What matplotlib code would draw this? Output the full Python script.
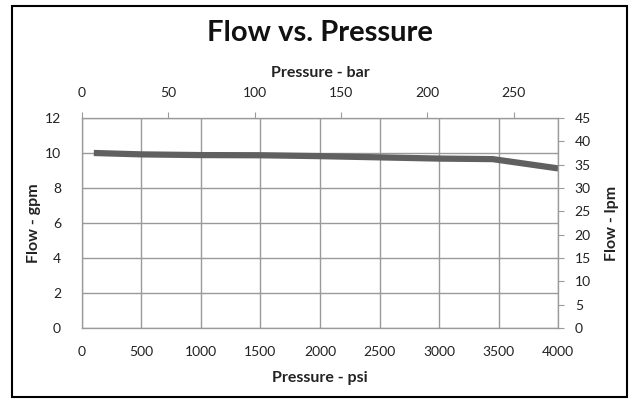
import matplotlib
matplotlib.use("Agg")
import matplotlib.pyplot as plt
from matplotlib.patches import Rectangle

plt.rcParams['font.family'] = ['Lato', 'DejaVu Sans']

# data
psi = [100, 500, 1000, 1500, 2000, 2500, 3000, 3450, 4000]
gpm = [10.0, 9.92, 9.88, 9.87, 9.82, 9.75, 9.68, 9.65, 9.12]
psi_ticks = [0, 500, 1000, 1500, 2000, 2500, 3000, 3500, 4000]
gpm_ticks = [0, 2, 4, 6, 8, 10, 12]
bar_ticks = [0, 50, 100, 150, 200, 250]
lpm_ticks = [0, 5, 10, 15, 20, 25, 30, 35, 40, 45]

PSI_PER_BAR = 14.5038
grid_c = '#9a9a9a'
txt_c = '#222222'

fig = plt.figure(figsize=(6.4, 4.04), dpi=100)
fig.patches.append(Rectangle((0.019, 0.017), 0.961, 0.968, transform=fig.transFigure,
                             fill=False, edgecolor='black', linewidth=1.5))

ax = fig.add_axes([0.128, 0.188, 0.744, 0.52])
ax.plot(psi, gpm, color='#606060', linewidth=4.5, solid_capstyle='butt')
ax.set_xlim(0, 4000)
ax.set_ylim(0, 12)
ax.set_xticks(psi_ticks)
ax.set_yticks(gpm_ticks)
ax.grid(True, color=grid_c, linewidth=1)
ax.tick_params(length=0, labelsize=10, colors=txt_c, pad=13)
ax.tick_params(axis='y', pad=15)
for s in ax.spines.values():
    s.set_color(grid_c)
ax.set_xlabel('Pressure - psi', fontsize=11.5, fontweight='bold', color=txt_c, labelpad=9)
ax.set_ylabel('Flow - gpm', fontsize=11.5, fontweight='bold', color=txt_c, labelpad=3)

# top axis in bar
top = ax.twiny()
top.set_xlim(0, 4000 / PSI_PER_BAR)
top.set_xticks(bar_ticks)
top.tick_params(length=4, color=grid_c, labelsize=10, labelcolor=txt_c, pad=10)
top.set_xlabel('Pressure - bar', fontsize=11.5, fontweight='bold', color=txt_c, labelpad=7)
for s in top.spines.values():
    s.set_color(grid_c)

# right axis in lpm
right = ax.twinx()
right.set_ylim(0, 45)
right.set_yticks(lpm_ticks)
right.tick_params(length=4, color=grid_c, labelsize=10, labelcolor=txt_c, pad=8)
right.set_ylabel('Flow - lpm', fontsize=11.5, fontweight='bold', color=txt_c, labelpad=10)
for s in right.spines.values():
    s.set_color(grid_c)

fig.suptitle('Flow vs. Pressure', fontsize=21, fontweight='bold', color='#111111', y=0.95)

fig.savefig('out.png', dpi=100)
